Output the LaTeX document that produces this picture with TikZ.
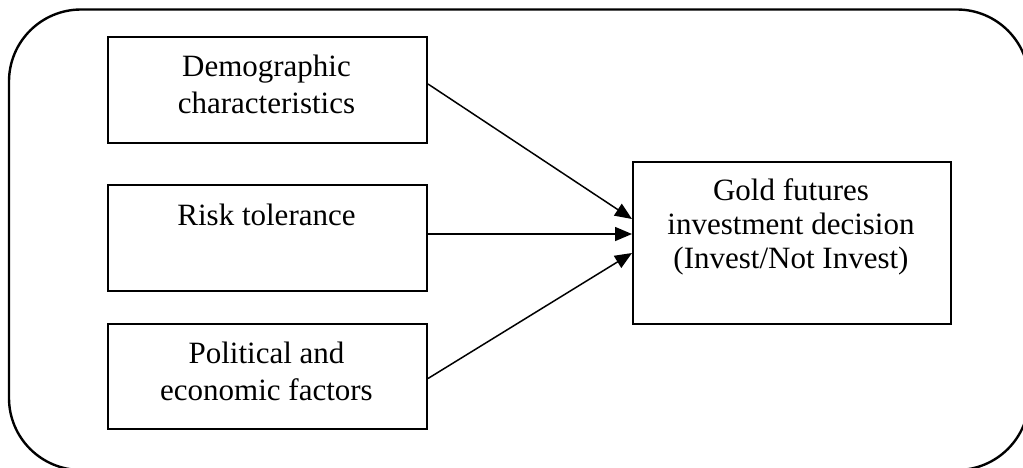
\documentclass[tikz,border=0pt]{standalone}
\usepackage{fontspec}
\setmainfont{Liberation Serif}
\usetikzlibrary{arrows.meta,calc}
\begin{document}
\begin{tikzpicture}[x=1pt,y=-1pt,
  box/.style={draw=black,line width=2pt,rectangle,inner sep=0pt,anchor=north west},
  lbl/.style={font=\fontsize{31}{37}\selectfont,align=center,anchor=base,inner sep=0pt},
  conn/.style={line width=1.5pt,-{Triangle[length=17pt,width=14pt]}}]
\useasboundingbox (0,0) rectangle (1023,467);
\begin{scope}
\clip (0,0) rectangle (1023,467);
\draw[line width=2.4pt,rounded corners=72pt] (9,9.5) rectangle (1029,470);
\end{scope}
\node[box,minimum width=319pt,minimum height=106pt] (demo) at (107,36) {};
\node[box,minimum width=319pt,minimum height=106pt] (risk) at (107,184) {};
\node[box,minimum width=319pt,minimum height=105pt] (pol) at (107,323) {};
\node[box,minimum width=318pt,minimum height=162pt] (gold) at (632,161) {};
\node[lbl] (demotxt) at (266.5,113) {Demographic\\characteristics};
\node[lbl] (risktxt) at (266.5,225) {Risk tolerance};
\node[lbl] (poltxt) at (266.5,400) {Political and\\economic factors};
\node[lbl,font=\fontsize{31}{34}\selectfont] (goldtxt) at (791,268) {Gold futures\\investment decision\\(Invest/Not Invest)};
\draw[conn] ($(demo.east)+(0,-6)$) -- ($(gold.west)+(0,-24)$);
\draw[conn] ($(risk.east)+(0,-4)$) -- ($(gold.west)+(0,-9)$);
\draw[conn] ($(pol.east)+(0,2)$) -- ($(gold.west)+(0,10)$);
\end{tikzpicture}
\end{document}
